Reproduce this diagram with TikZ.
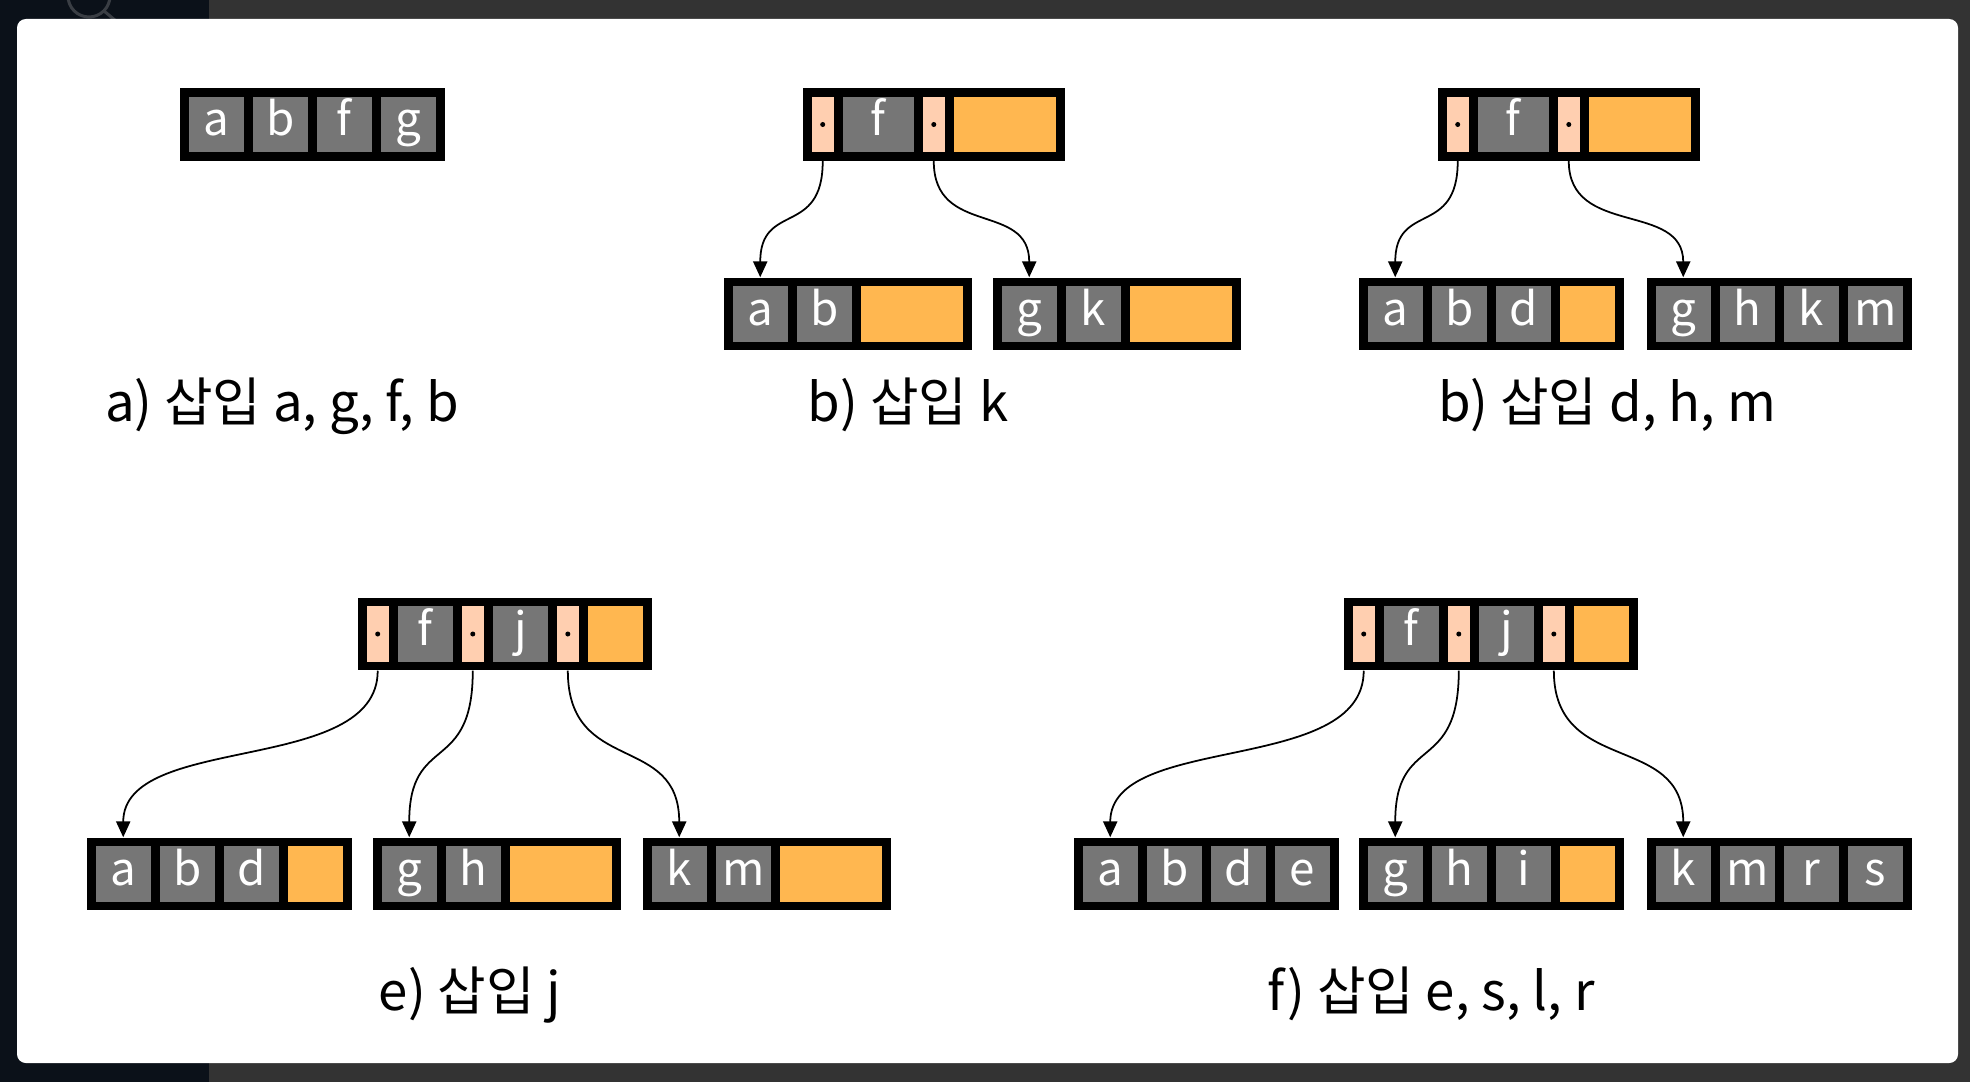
\documentclass[tikz,border=0pt]{standalone}
\usepackage{fontspec}
\setmainfont{Noto Sans CJK KR}
\usepackage{tikz}
\usetikzlibrary{arrows.meta,matrix,positioning}
\definecolor{keygray}{RGB}{118,118,118}
\definecolor{freeorange}{RGB}{255,183,80}
\definecolor{ptrpeach}{RGB}{255,207,176}
\definecolor{bgdark}{RGB}{51,51,51}
\definecolor{bgnavy}{RGB}{11,17,25}
\definecolor{ringgray}{RGB}{58,62,68}

\begin{document}
\begin{tikzpicture}[x=0.01cm,y=0.01cm,>={Triangle[width=4pt,length=4.5pt]},
    bnode/.style={matrix of nodes,ampersand replacement=\&,nodes in empty cells,
      fill=black,inner xsep=0.09cm,inner ysep=0.085cm,column sep=0.09cm,anchor=west,
      nodes={kcell}},
    cell/.style={inner sep=0pt,minimum height=0.55cm,text height=0.33cm,text depth=0.11cm,
      font=\fontsize{13}{13}\selectfont},
    kcell/.style={cell,fill=keygray,text=white,minimum width=0.55cm},
    wkcell/.style={kcell,minimum width=0.71cm},
    pcell/.style={cell,fill=ptrpeach,minimum width=0.22cm,
      path picture={\fill[black] (path picture bounding box.center) circle[radius=0.025cm];}},
    fcell/.style={cell,fill=freeorange,minimum width=0.55cm},
    wfcell/.style={fcell,minimum width=1.02cm},
    link/.style={->,line width=0.5pt,out=-90,in=90,out distance=#1,in distance=#1},
    lbl/.style={anchor=base,inner sep=0pt,font=\fontsize{15}{15}\selectfont}]

  % screen and card
  \useasboundingbox (0,0) rectangle (1970,-1082);
  \fill[bgdark] (0,0) rectangle (1970,-1082);
  \fill[bgnavy] (0,0) rectangle (209,-1082);
  \begin{scope}
    \clip (0,0) rectangle (209,-19);
    \draw[ringgray,line width=0.03cm] (89,4) circle[radius=21];
    \draw[ringgray,line width=0.03cm] (104,-11) -- (116,-21);
  \end{scope}
  \fill[white,rounded corners=2.5pt] (17,-19) rectangle (1958,-1063);

  % a)
  \matrix (A) [bnode] at (179,-124.5) {a \& b \& f \& g \\};
  \node[lbl] (La) at (282,-421) {a) 삽입 a, g, f, b};

  % b) k
  \matrix (B) [bnode] at (802,-124.5) {|[pcell]| \& |[wkcell]| f \& |[pcell]| \& |[wfcell]| \\};
  \matrix (B1) [bnode] at (723,-314) {a \& b \& |[wfcell]| \\};
  \matrix (B2) [bnode] at (992,-314) {g \& k \& |[wfcell]| \\};
  \node[lbl] (Lb) at (908,-421) {b) 삽입 k};

  % b) d, h, m
  \matrix (C) [bnode] at (1437,-124.5) {|[pcell]| \& |[wkcell]| f \& |[pcell]| \& |[wfcell]| \\};
  \matrix (C1) [bnode] at (1358,-314) {a \& b \& d \& |[fcell]| \\};
  \matrix (C2) [bnode] at (1646,-314) {g \& h \& k \& m \\};
  \node[lbl] (Lc) at (1607,-421) {b) 삽입 d, h, m};

  % e) j
  \matrix (E) [bnode] at (357,-634) {|[pcell]| \& f \& |[pcell]| \& j \& |[pcell]| \& |[fcell]| \\};
  \matrix (E1) [bnode] at (86,-874) {a \& b \& d \& |[fcell]| \\};
  \matrix (E2) [bnode] at (372,-874) {g \& h \& |[wfcell]| \\};
  \matrix (E3) [bnode] at (642,-874) {k \& m \& |[wfcell]| \\};
  \node[lbl] (Le) at (470,-1010) {e) 삽입 j};

  % f) e, s, l, r
  \matrix (F) [bnode] at (1343,-634) {|[pcell]| \& f \& |[pcell]| \& j \& |[pcell]| \& |[fcell]| \\};
  \matrix (F1) [bnode] at (1073,-874) {a \& b \& d \& e \\};
  \matrix (F2) [bnode] at (1358,-874) {g \& h \& i \& |[fcell]| \\};
  \matrix (F3) [bnode] at (1646,-874) {k \& m \& r \& s \\};
  \node[lbl] (Lf) at (1431,-1010) {f) 삽입 e, s, l, r};

  % pointers
  \foreach \t/\p/\c/\d in {B/1/B1/0.76cm,B/3/B2/0.76cm,C/1/C1/0.76cm,C/3/C2/0.76cm,
      E/1/E1/1.05cm,E/3/E2/1.05cm,E/5/E3/1.05cm,F/1/F1/1.05cm,F/3/F2/1.05cm,F/5/F3/1.05cm}
    \draw[link=\d] (\t-1-\p.south |- \t.south) to (\c-1-1.center |- \c.north);
\end{tikzpicture}
\end{document}
